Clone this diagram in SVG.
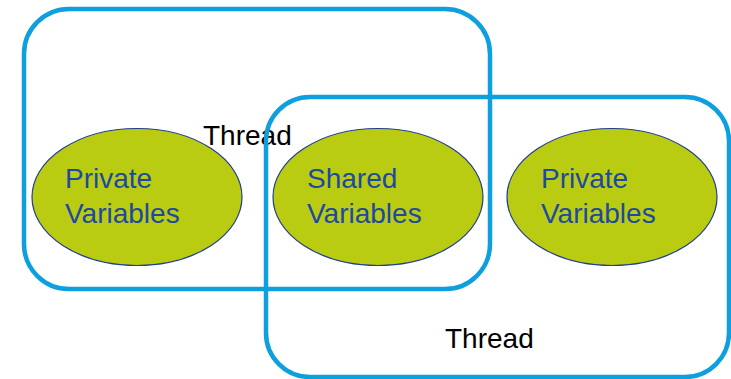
<svg xmlns="http://www.w3.org/2000/svg" width="731" height="379" viewBox="0 0 731 379">
<style>
.thr{fill:none;stroke:#0ea0de;stroke-width:4.5}
.var{fill:#bacc12;stroke:#1f3f8f;stroke-width:1.2}
.lbl{font-family:"Liberation Sans",Arial,sans-serif;font-size:28px;fill:#000}
.vt{font-family:"Liberation Sans",Arial,sans-serif;font-size:28px;fill:#1c4aa0}
</style>
<rect width="731" height="379" fill="#fff"/>
<g id="thread1">
<rect class="thr" x="24" y="9" width="466" height="280" rx="45" ry="45"/>
<text class="lbl" x="203" y="145">Thread</text>
</g>
<g id="thread2">
<rect class="thr" x="266" y="97" width="463" height="280" rx="44" ry="44"/>
<text class="lbl" x="445" y="348">Thread</text>
</g>
<g id="private1">
<ellipse class="var" cx="137" cy="197" rx="105" ry="68.5"/>
<text class="vt" x="65" y="188">Private</text>
<text class="vt" x="65" y="223">Variables</text>
</g>
<g id="shared">
<ellipse class="var" cx="378" cy="197" rx="105" ry="68.5"/>
<text class="vt" x="307" y="188">Shared</text>
<text class="vt" x="307" y="223">Variables</text>
</g>
<g id="private2">
<ellipse class="var" cx="612" cy="197" rx="105" ry="68.5"/>
<text class="vt" x="541" y="188">Private</text>
<text class="vt" x="541" y="223">Variables</text>
</g>
<g id="connectors"/>
</svg>
